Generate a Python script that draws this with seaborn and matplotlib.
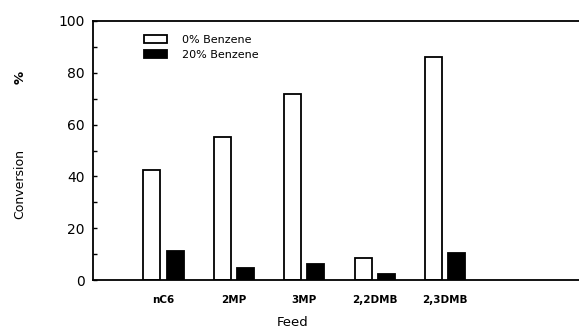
import matplotlib
matplotlib.use("Agg")
import matplotlib.pyplot as plt
import seaborn as sns
import pandas as pd
from matplotlib.ticker import MultipleLocator

feeds = ["nC6", "2MP", "3MP", "2,2DMB", "2,3DMB"]
series_names = ["0% Benzene", "20% Benzene"]
conv_0 = [42.5, 55.3, 72.0, 8.4, 86.2]
conv_20 = [11.3, 4.5, 6.2, 2.2, 10.3]

df = pd.DataFrame({
    "Feed": feeds * 2,
    "Series": [series_names[0]] * len(feeds) + [series_names[1]] * len(feeds),
    "Conversion": conv_0 + conv_20,
})

sns.set_theme(style="white")
plt.rcParams["font.family"] = ["DejaVu Sans"]
plt.rcParams["text.color"] = "black"
plt.rcParams["xtick.color"] = "black"
plt.rcParams["ytick.color"] = "black"
plt.rcParams["axes.labelcolor"] = "black"

fig = plt.figure(figsize=(5.79, 3.31), dpi=100)
ax = fig.add_axes([93/579, 1-280/331, (579-93)/579, (280-21)/331])

sns.barplot(data=df, x="Feed", y="Conversion", hue="Series", order=feeds,
            hue_order=series_names, palette=["white", "black"],
            width=0.66, gap=0.27, edgecolor="black", linewidth=1.3,
            errorbar=None, ax=ax)

ax.set_xlim(-1.0, 5.9)
ax.set_ylim(0, 100)
ax.yaxis.set_major_locator(MultipleLocator(20))
ax.yaxis.set_minor_locator(MultipleLocator(10))
ax.tick_params(axis="y", which="both", direction="in", left=True, length=3,
               width=1, labelsize=10, pad=6)
ax.tick_params(axis="x", bottom=False, labelsize=7.5, pad=5)
for lab in ax.get_xticklabels():
    lab.set_fontweight("bold")

for s in ["left", "bottom", "top"]:
    ax.spines[s].set_visible(True)
    ax.spines[s].set_color("black")
    ax.spines[s].set_linewidth(1.3)
ax.spines["right"].set_visible(False)

ax.set_ylabel("")
ax.set_xlabel("")
fig.text(293/579, 1-323/331, "Feed", ha="center", va="center", fontsize=9.5)
fig.text(20/579, 1-184/331, "Conversion", rotation=90, ha="center", va="center", fontsize=9)
fig.text(20/579, 1-77/331, "%", rotation=90, ha="center", va="center", fontsize=9.5, fontweight="bold")

leg = ax.legend(loc="upper left", bbox_to_anchor=(0.085, 0.985), frameon=False,
                fontsize=8, handlelength=2.0, handleheight=0.8,
                handletextpad=1.4, labelspacing=0.45)

fig.savefig("out.png", dpi=100)
